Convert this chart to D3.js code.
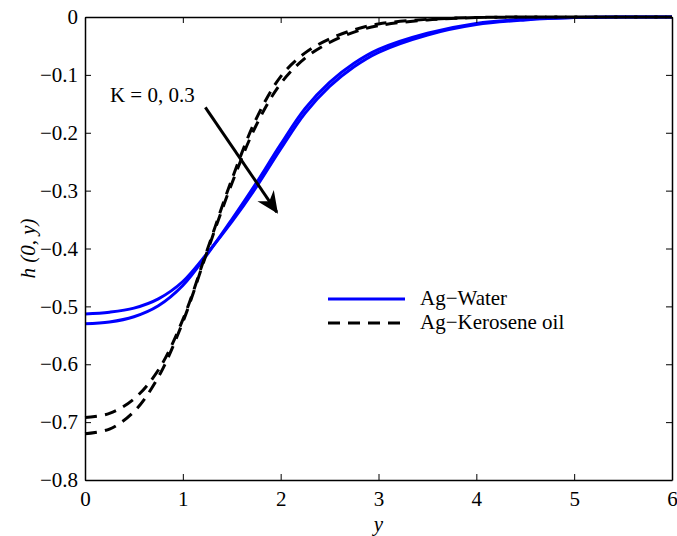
<!DOCTYPE html>
<html>
<head>
<meta charset="utf-8">
<script src="https://cdn.jsdelivr.net/npm/d3@7"></script>
<style>
  body { margin: 0; background: #fff; }
  svg text { font-family: 'Liberation Serif', 'Times New Roman', serif; fill: #000; }
</style>
</head>
<body>
<svg id="chart" width="677" height="536"></svg>
<script>
//

const xs = [0, 0.25, 0.5, 0.75, 1.0, 1.25, 1.5, 1.75, 2.0, 2.25, 2.5, 2.75, 3.0, 3.5, 4.0, 4.5, 5.0, 5.5, 6.0]

const waterK0 = [-0.513, -0.510, -0.503, -0.487, -0.457, -0.408, -0.354, -0.294, -0.228, -0.166, -0.120, -0.086, -0.061, -0.031, -0.013, -0.005, -0.001, 0, 0]
const waterK3 = [-0.530, -0.527, -0.518, -0.499, -0.464, -0.410, -0.350, -0.287, -0.220, -0.158, -0.113, -0.080, -0.056, -0.028, -0.011, -0.004, -0.001, 0, 0]
const keroK0 = [-0.692, -0.685, -0.660, -0.610, -0.523, -0.402, -0.281, -0.176, -0.103, -0.062, -0.038, -0.022, -0.012, -0.004, -0.001, 0, 0, 0, 0]
const keroK3 = [-0.720, -0.712, -0.682, -0.622, -0.527, -0.405, -0.288, -0.187, -0.115, -0.071, -0.044, -0.026, -0.015, -0.005, -0.001, 0, 0, 0, 0]

const xTicks = [0, 1, 2, 3, 4, 5, 6]
const yTicks = [0, -0.1, -0.2, -0.3, -0.4, -0.5, -0.6, -0.7, -0.8]

const series = [
  {name: 'Ag\u2212Water', values: waterK0, kind: 'water'},
  {name: 'Ag\u2212Water', values: waterK3, kind: 'water'},
  {name: 'Ag\u2212Kerosene oil', values: keroK0, kind: 'kero'},
  {name: 'Ag\u2212Kerosene oil', values: keroK3, kind: 'kero'}
]
const legendItems = [
  {name: 'Ag\u2212Water', kind: 'water'},
  {name: 'Ag\u2212Kerosene oil', kind: 'kero'}
]

const annotationText = 'K = 0, 0.3'
const arrowFrom = [1.23, -0.156]
const arrowTo = [1.96, -0.337]

//

const width = 677
const height = 536
const margin = {top: 17, right: 5, bottom: 56, left: 85}
const fontSize = 21
const style = {
  water: {stroke: '#0000ff', dash: null},
  kero: {stroke: '#000000', dash: '12,8'}
}

const svg = d3.select('#chart')

const x = d3.scaleLinear().domain([0, 6]).range([margin.left, width - margin.right])
const y = d3.scaleLinear().domain([-0.8, 0]).range([height - margin.bottom, margin.top])

const fmt = (d) => d === 0 ? '0' : d3.format('.1f')(d).replace('-', '\u2212')
const fmtX = (d) => String(d)

// curves
const line = d3.line()
  .x((d) => x(d[0]))
  .y((d) => y(d[1]))
  .curve(d3.curveCatmullRom.alpha(0.5))

svg.append('g')
  .selectAll('path')
  .data(series)
  .join('path')
  .attr('d', (s) => line(xs.map((v, i) => [v, s.values[i]])))
  .attr('fill', 'none')
  .attr('stroke', (s) => style[s.kind].stroke)
  .attr('stroke-width', 3)
  .attr('stroke-dasharray', (s) => style[s.kind].dash)

// axes: inward ticks on all four sides
const tickLen = 6
const axisBottom = d3.axisBottom(x).tickValues(xTicks).tickFormat(fmtX).tickSizeInner(-tickLen).tickSizeOuter(0).tickPadding(11)
const axisTop = d3.axisTop(x).tickValues(xTicks).tickFormat('').tickSizeInner(-tickLen).tickSizeOuter(0)
const axisLeft = d3.axisLeft(y).tickValues(yTicks).tickFormat(fmt).tickSizeInner(-tickLen).tickSizeOuter(0).tickPadding(7)
const axisRight = d3.axisRight(y).tickValues(yTicks).tickFormat('').tickSizeInner(-tickLen).tickSizeOuter(0)

const styleAxis = (g) => {
  g.attr('font-family', null).attr('font-size', null)
  g.select('.domain').attr('stroke', '#000').attr('stroke-width', 1.5)
  g.selectAll('.tick line').attr('stroke', '#000').attr('stroke-width', 1)
  g.selectAll('.tick text')
    .attr('font-size', fontSize)
    .attr('fill', '#000')
}

svg.append('g').attr('transform', `translate(0,${y(-0.8)})`).call(axisBottom).call(styleAxis)
svg.append('g').attr('transform', `translate(0,${y(0)})`).call(axisTop).call(styleAxis)
svg.append('g').attr('transform', `translate(${x(0)},0)`).call(axisLeft).call(styleAxis)
svg.append('g').attr('transform', `translate(${x(6)},0)`).call(axisRight).call(styleAxis)

// axis labels
svg.append('text')
  .attr('x', (x(0) + x(6)) / 2)
  .attr('y', 531)
  .attr('text-anchor', 'middle')
  .attr('font-size', fontSize)
  .attr('font-style', 'italic')
  .text('y')

svg.append('text')
  .attr('transform', `translate(35,${(y(0) + y(-0.8)) / 2}) rotate(-90)`)
  .attr('text-anchor', 'middle')
  .attr('font-size', fontSize)
  .attr('font-style', 'italic')
  .text('h (0, y)')

// annotation arrow
svg.append('defs').append('marker')
  .attr('id', 'head')
  .attr('viewBox', '0 0 10 10')
  .attr('refX', 9)
  .attr('refY', 5)
  .attr('markerUnits', 'userSpaceOnUse')
  .attr('markerWidth', 22)
  .attr('markerHeight', 22)
  .attr('orient', 'auto')
  .append('path')
  .attr('d', 'M0,0.5 L10,5 L0,9.5 L3,5 Z')
  .attr('fill', '#000')

svg.append('line')
  .attr('x1', x(arrowFrom[0]))
  .attr('y1', y(arrowFrom[1]))
  .attr('x2', x(arrowTo[0]))
  .attr('y2', y(arrowTo[1]))
  .attr('stroke', '#000')
  .attr('stroke-width', 3)
  .attr('marker-end', 'url(#head)')

svg.append('text')
  .attr('x', x(0.255))
  .attr('y', y(-0.147))
  .attr('font-size', fontSize)
  .text(annotationText)

// legend
const legend = svg.append('g').attr('transform', 'translate(328,299)')
const legendRow = legend.selectAll('g')
  .data(legendItems)
  .join('g')
  .attr('transform', (d, i) => `translate(0,${i * 24})`)

legendRow.append('line')
  .attr('x1', 0)
  .attr('x2', 77)
  .attr('stroke', (d) => style[d.kind].stroke)
  .attr('stroke-width', 3)
  .attr('stroke-dasharray', (d) => style[d.kind].dash)

legendRow.append('text')
  .attr('x', 92)
  .attr('y', 6)
  .attr('font-size', fontSize)
  .text((d) => d.name)
</script>
</body>
</html>
